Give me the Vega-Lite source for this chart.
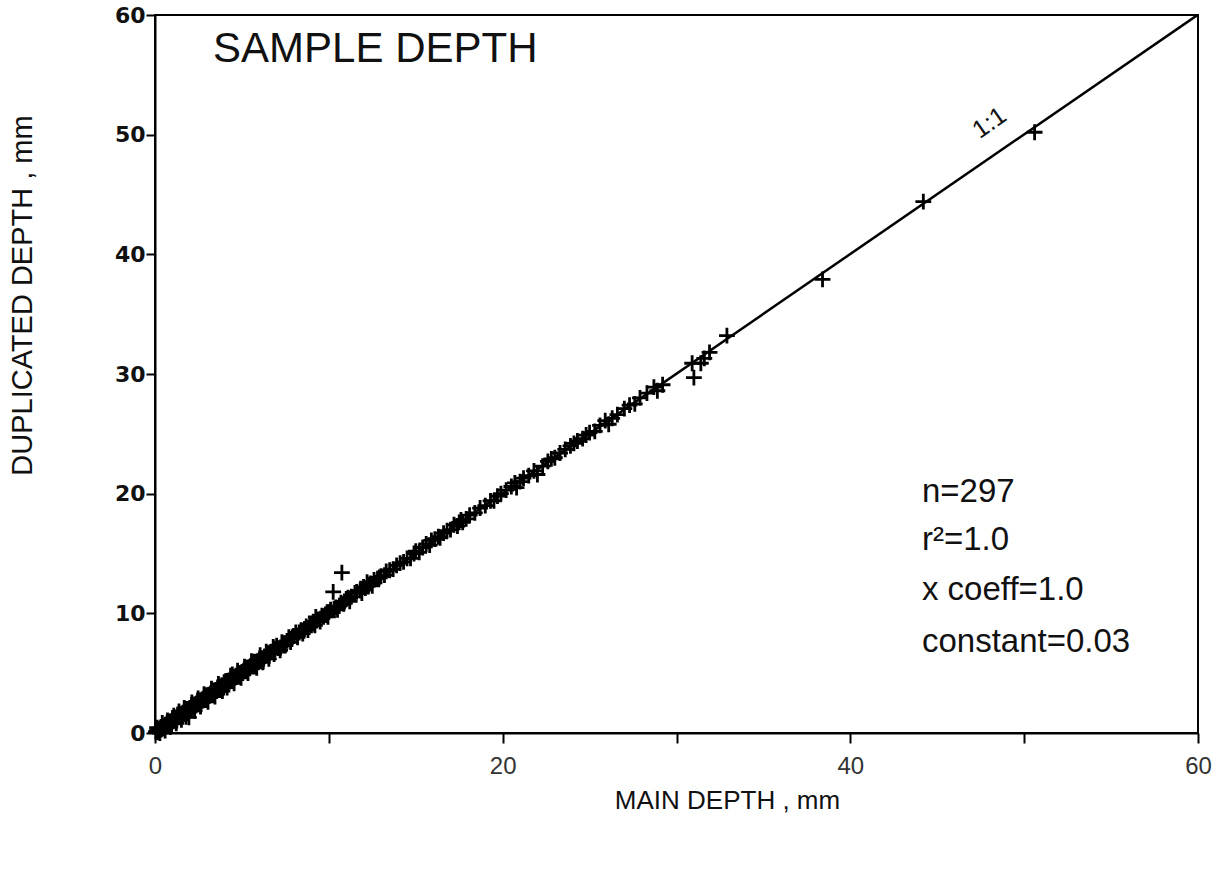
{
  "$schema": "https://vega.github.io/schema/vega-lite/v6.json",
  "width": 1043,
  "height": 718,
  "autosize": {"type": "none"},
  "padding": {"left": 155, "top": 15, "right": 25, "bottom": 139},
  "background": "white",
  "config": {
    "view": {"stroke": "black", "strokeWidth": 2},
    "axis": {"grid": false, "domainColor": "black", "domainWidth": 2, "tickColor": "black", "tickWidth": 2, "labelColor": "#111", "titleColor": "#111", "labelOverlap": false, "labelFlush": false}
  },
  "datasets": {
    "pts": [
      {"x":0.05,"y":0.1},{"x":0.1,"y":0.05},{"x":0.1,"y":0.2},{"x":0.15,"y":0.1},{"x":0.2,"y":0.3},{"x":0.2,"y":0.15},{"x":0.25,"y":0.2},{"x":0.3,"y":0.4},{"x":0.3,"y":0.25},{"x":0.35,"y":0.3},{"x":0.4,"y":0.5},{"x":0.4,"y":0.35},{"x":0.45,"y":0.4},{"x":0.5,"y":0.6},{"x":0.5,"y":0.45},{"x":0.55,"y":0.5},{"x":0.6,"y":0.7},{"x":0.6,"y":0.55},{"x":0.65,"y":0.6},{"x":0.7,"y":0.8},{"x":0.75,"y":0.7},{"x":0.8,"y":0.9},{"x":0.8,"y":0.75},{"x":0.85,"y":0.8},{"x":0.9,"y":1.0},{"x":0.95,"y":0.9},{"x":1.0,"y":1.1},{"x":1.0,"y":0.95},{"x":1.05,"y":1.0},{"x":1.1,"y":1.2},{"x":1.15,"y":1.1},{"x":1.2,"y":1.3},{"x":1.25,"y":1.2},{"x":1.3,"y":1.4},{"x":1.35,"y":1.3},{"x":1.4,"y":1.5},{"x":1.45,"y":1.4},{"x":1.5,"y":1.6},{"x":1.55,"y":1.5},{"x":1.6,"y":1.7},{"x":1.65,"y":1.6},{"x":1.7,"y":1.8},{"x":1.8,"y":1.9},{"x":1.85,"y":1.8},{"x":1.95,"y":1.3},{"x":1.9,"y":2.0},
      {"x":2.0,"y":2.1},{"x":2.05,"y":2.0},{"x":2.1,"y":2.2},{"x":2.15,"y":2.1},{"x":2.2,"y":2.3},{"x":2.3,"y":2.4},{"x":2.35,"y":2.3},{"x":2.4,"y":2.5},{"x":2.45,"y":2.4},{"x":2.5,"y":2.6},{"x":2.6,"y":2.7},{"x":2.65,"y":2.6},{"x":2.7,"y":2.8},{"x":2.75,"y":2.7},{"x":2.8,"y":2.9},{"x":2.9,"y":3.0},{"x":2.95,"y":2.9},{"x":3.0,"y":3.1},{"x":3.1,"y":3.2},{"x":3.15,"y":3.1},{"x":3.2,"y":3.3},{"x":3.3,"y":3.4},{"x":3.35,"y":3.3},{"x":3.4,"y":3.5},{"x":3.5,"y":3.6},{"x":3.55,"y":3.5},{"x":3.6,"y":3.8},{"x":3.7,"y":3.7},{"x":3.75,"y":3.9},{"x":3.8,"y":3.8},{"x":3.85,"y":4.0},{"x":3.9,"y":3.9},{"x":3.95,"y":3.8},
      {"x":4.0,"y":4.1},{"x":4.05,"y":4.0},{"x":4.1,"y":4.3},{"x":4.2,"y":4.2},{"x":4.25,"y":4.4},{"x":4.3,"y":4.3},{"x":4.4,"y":4.5},{"x":4.45,"y":4.9},{"x":4.5,"y":4.6},{"x":4.6,"y":4.6},{"x":4.65,"y":4.8},{"x":4.7,"y":4.7},{"x":4.8,"y":4.9},{"x":4.85,"y":4.8},{"x":4.9,"y":5.0},{"x":5.0,"y":5.1},{"x":5.05,"y":5.0},{"x":5.1,"y":5.2},{"x":5.2,"y":5.3},{"x":5.25,"y":5.2},{"x":5.3,"y":5.4},{"x":5.4,"y":5.5},{"x":5.45,"y":5.4},{"x":5.5,"y":5.6},{"x":5.6,"y":5.7},{"x":5.7,"y":5.8},{"x":5.75,"y":5.7},{"x":5.8,"y":5.9},{"x":5.9,"y":6.0},{"x":5.95,"y":5.9},
      {"x":6.0,"y":6.1},{"x":6.05,"y":6.5},{"x":6.1,"y":6.2},{"x":6.2,"y":5.9},{"x":6.25,"y":6.2},{"x":6.3,"y":6.4},{"x":6.4,"y":6.8},{"x":6.5,"y":6.6},{"x":6.55,"y":6.2},{"x":6.6,"y":6.7},{"x":6.7,"y":6.8},{"x":6.8,"y":7.2},{"x":6.85,"y":6.6},{"x":6.9,"y":7.0},{"x":7.0,"y":7.3},{"x":7.1,"y":7.1},{"x":7.2,"y":6.9},{"x":7.3,"y":7.6},{"x":7.35,"y":7.3},{"x":7.4,"y":7.5},{"x":7.5,"y":7.3},{"x":7.6,"y":7.7},{"x":7.7,"y":8.0},{"x":7.8,"y":7.6},{"x":7.9,"y":8.0},{"x":7.95,"y":8.1},
      {"x":8.0,"y":8.1},{"x":8.1,"y":8.4},{"x":8.2,"y":8.0},{"x":8.3,"y":8.4},{"x":8.4,"y":8.6},{"x":8.5,"y":8.3},{"x":8.6,"y":8.7},{"x":8.7,"y":8.9},{"x":8.8,"y":8.6},{"x":8.9,"y":9.1},{"x":9.0,"y":9.0},{"x":9.1,"y":9.3},{"x":9.2,"y":9.0},{"x":9.25,"y":9.7},{"x":9.3,"y":9.4},{"x":9.4,"y":9.5},{"x":9.5,"y":9.3},{"x":9.6,"y":9.8},{"x":9.7,"y":9.7},{"x":9.8,"y":9.9},{"x":9.9,"y":10.1},{"x":9.95,"y":9.7},
      {"x":10.0,"y":10.1},{"x":10.1,"y":10.3},{"x":10.25,"y":11.8},{"x":10.3,"y":10.4},{"x":10.4,"y":10.5},{"x":10.5,"y":10.3},{"x":10.6,"y":10.6},{"x":10.7,"y":10.9},{"x":10.75,"y":13.4},{"x":10.85,"y":10.8},{"x":10.9,"y":11.0},{"x":11.0,"y":11.2},{"x":11.1,"y":11.3},{"x":11.2,"y":11.0},{"x":11.3,"y":11.4},{"x":11.5,"y":11.7},{"x":11.6,"y":11.8},{"x":11.8,"y":11.9},{"x":11.9,"y":11.7},
      {"x":12.0,"y":12.2},{"x":12.1,"y":12.1},{"x":12.2,"y":12.6},{"x":12.3,"y":12.4},{"x":12.4,"y":12.5},{"x":12.5,"y":12.3},{"x":12.6,"y":12.8},{"x":12.8,"y":12.9},{"x":12.9,"y":13.0},{"x":13.0,"y":13.1},{"x":13.2,"y":13.2},{"x":13.3,"y":13.5},{"x":13.5,"y":13.6},{"x":13.7,"y":13.7},{"x":13.9,"y":14.0},
      {"x":14.1,"y":14.2},{"x":14.3,"y":14.3},{"x":14.5,"y":14.6},{"x":14.7,"y":14.6},{"x":14.9,"y":15.0},{"x":15.0,"y":15.2},{"x":15.2,"y":15.1},{"x":15.4,"y":15.5},{"x":15.6,"y":15.8},{"x":15.8,"y":15.7},{"x":15.9,"y":16.1},
      {"x":16.1,"y":16.2},{"x":16.3,"y":16.4},{"x":16.4,"y":16.3},{"x":16.6,"y":16.7},{"x":16.8,"y":16.9},{"x":17.0,"y":17.0},{"x":17.2,"y":17.4},{"x":17.4,"y":17.3},{"x":17.5,"y":17.6},{"x":17.6,"y":17.8},{"x":17.7,"y":17.6},{"x":17.9,"y":17.9},
      {"x":18.1,"y":18.2},{"x":18.4,"y":18.4},{"x":18.7,"y":18.8},{"x":19.0,"y":19.0},{"x":19.3,"y":19.4},{"x":19.5,"y":19.4},{"x":19.7,"y":19.8},{"x":19.9,"y":20.0},
      {"x":20.2,"y":20.3},{"x":20.5,"y":20.6},{"x":20.7,"y":20.9},{"x":20.8,"y":20.5},{"x":21.0,"y":21.0},{"x":21.2,"y":21.3},{"x":21.5,"y":21.5},{"x":21.8,"y":21.9},
      {"x":22.0,"y":21.6},{"x":22.3,"y":22.3},{"x":22.6,"y":22.7},{"x":22.8,"y":22.9},{"x":23.0,"y":23.0},{"x":23.3,"y":23.4},{"x":23.6,"y":23.7},{"x":23.9,"y":24.0},
      {"x":24.1,"y":24.2},{"x":24.3,"y":24.4},{"x":24.6,"y":24.6},{"x":24.8,"y":24.9},{"x":25.0,"y":25.1},{"x":25.3,"y":25.2},{"x":25.6,"y":25.7},{"x":25.9,"y":26.1},
      {"x":26.1,"y":25.8},{"x":26.3,"y":26.3},{"x":26.6,"y":26.6},{"x":27.0,"y":27.1},{"x":27.3,"y":27.4},{"x":27.6,"y":27.5},{"x":27.9,"y":28.0},
      {"x":28.3,"y":28.4},{"x":28.7,"y":28.9},{"x":28.9,"y":28.6},{"x":29.2,"y":29.1},
      {"x":30.9,"y":30.9},{"x":31.0,"y":29.7},{"x":31.4,"y":30.9},{"x":31.6,"y":31.3},{"x":31.9,"y":31.8},{"x":32.9,"y":33.2},{"x":38.4,"y":37.9},{"x":44.2,"y":44.4},{"x":50.6,"y":50.2},
      {"x":0.12,"y":0.45},{"x":0.28,"y":0.0},{"x":0.42,"y":0.85},{"x":0.58,"y":0.2},{"x":0.72,"y":1.05},{"x":0.88,"y":0.5},{"x":1.08,"y":1.45},{"x":1.22,"y":0.8},{"x":1.38,"y":1.8},{"x":1.52,"y":1.1},{"x":1.68,"y":2.1},{"x":1.78,"y":1.35},{"x":2.12,"y":2.55},{"x":2.28,"y":1.85},{"x":2.48,"y":2.9},{"x":2.62,"y":2.2},{"x":2.82,"y":3.25},{"x":3.05,"y":2.6},{"x":3.25,"y":3.7},{"x":3.45,"y":3.05},{"x":3.65,"y":4.1},{"x":3.88,"y":3.5},{"x":4.15,"y":3.8},{"x":4.35,"y":4.8},{"x":4.55,"y":4.15},{"x":4.75,"y":5.2},{"x":4.95,"y":4.6},{"x":5.15,"y":5.55},{"x":5.35,"y":5.0},{"x":5.55,"y":6.0},{"x":5.85,"y":5.45}
    ],
    "fit": [{"x": 0, "y": 0.03}, {"x": 59.97, "y": 60}],
    "title": [{"x": 3.34, "y": 56.07, "label": "SAMPLE DEPTH"}],
    "stats": [
      {"x": 44.12, "y": 19.3, "label": "n=297"},
      {"x": 44.12, "y": 15.29, "label": "r²=1.0"},
      {"x": 44.12, "y": 11.11, "label": "x coeff=1.0"},
      {"x": 44.12, "y": 6.77, "label": "constant=0.03"}
    ],
    "ratio": [{"x": 48.0, "y": 51.0, "label": "1:1"}]
  },
  "encoding": {
    "x": {
      "field": "x", "type": "quantitative",
      "scale": {"domain": [0, 60], "nice": false, "zero": false},
      "axis": {
        "values": [0, 10, 20, 30, 40, 50, 60],
        "labelExpr": "datum.value % 20 == 0 ? datum.label : ''",
        "tickSize": 10, "labelPadding": 11,
        "labelFont": "Liberation Sans", "labelFontSize": 24, "labelFontWeight": "normal", "labelColor": "#333",
        "title": "MAIN DEPTH , mm",
        "titleFont": "Liberation Sans", "titleFontSize": 26, "titleFontWeight": "normal",
        "titleX": 572, "titleAlign": "center", "titleY": 67, "titleBaseline": "middle"
      }
    },
    "y": {
      "field": "y", "type": "quantitative",
      "scale": {"domain": [0, 60], "nice": false, "zero": false},
      "axis": {
        "values": [0, 10, 20, 30, 40, 50, 60],
        "tickSize": 9, "labelPadding": 1,
        "labelFont": "DejaVu Sans", "labelFontSize": 22, "labelFontWeight": "bold",
        "title": "DUPLICATED DEPTH , mm",
        "titleFont": "Liberation Sans", "titleFontSize": 29, "titleFontWeight": "normal",
        "titleX": -133, "titleY": 280, "titleAlign": "center", "titleBaseline": "middle", "titleAngle": -90
      }
    }
  },
  "layer": [
    {
      "data": {"name": "fit"},
      "mark": {"type": "line", "color": "black", "strokeWidth": 2.5, "clip": true}
    },
    {
      "data": {"name": "pts"},
      "mark": {"type": "point", "shape": "M-1,0H1M0,-1V1", "size": 250, "filled": false, "color": "black", "strokeWidth": 2.8, "opacity": 1}
    },
    {
      "data": {"name": "title"},
      "mark": {"type": "text", "align": "left", "baseline": "alphabetic", "font": "Liberation Sans", "fontSize": 42, "color": "#111"},
      "encoding": {"text": {"field": "label"}}
    },
    {
      "data": {"name": "stats"},
      "mark": {"type": "text", "align": "left", "baseline": "alphabetic", "font": "Liberation Sans", "fontSize": 33, "color": "#111"},
      "encoding": {"text": {"field": "label"}}
    },
    {
      "data": {"name": "ratio"},
      "mark": {"type": "text", "align": "center", "baseline": "middle", "font": "Liberation Sans", "fontSize": 25, "angle": 325, "color": "#111"},
      "encoding": {"text": {"field": "label"}}
    }
  ]
}
